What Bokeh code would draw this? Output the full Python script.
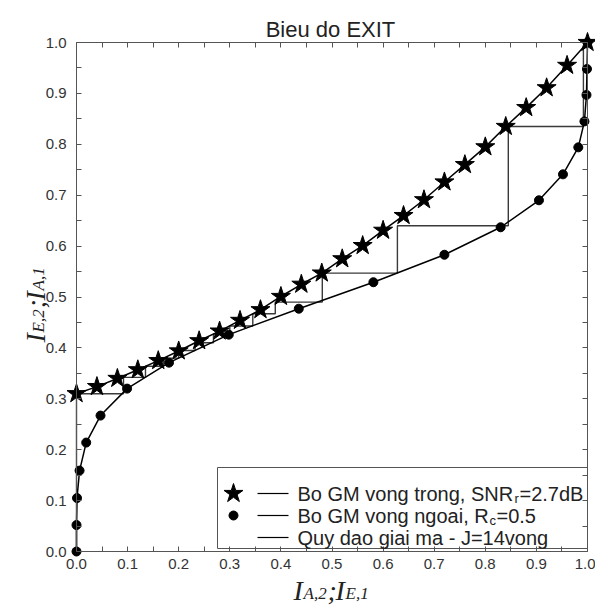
import math
from bokeh.plotting import figure
from bokeh.models import Range1d, LinearAxis, FixedTicker, PrintfTickFormatter, Label
from bokeh.embed import file_html
from bokeh.resources import INLINE

# ---------------- data ----------------
# Inner decoder EXIT curve (stars), SNR_r = 2.7 dB
inner_x = [0.00, 0.04, 0.08, 0.12, 0.16, 0.20, 0.24, 0.28, 0.32, 0.36, 0.40, 0.44, 0.48,
           0.52, 0.56, 0.60, 0.64, 0.68, 0.72, 0.76, 0.80, 0.84, 0.88, 0.92, 0.96, 1.00]
inner_y = [0.310, 0.324, 0.340, 0.357, 0.375, 0.394, 0.414, 0.433, 0.454, 0.475, 0.501, 0.525, 0.547,
           0.575, 0.601, 0.631, 0.660, 0.691, 0.726, 0.760, 0.795, 0.835, 0.872, 0.911, 0.955, 1.000]

# Outer decoder EXIT curve (dots), Rc = 0.5  (x = I_E,1 ; y = I_A,1)
outer_x = [0.000, 0.000, 0.001, 0.006, 0.019, 0.047, 0.099, 0.181, 0.298, 0.435,
           0.581, 0.720, 0.830, 0.905, 0.952, 0.982, 0.994, 0.998, 0.999, 1.000]
outer_y = [0.000, 0.052, 0.105, 0.159, 0.214, 0.267, 0.320, 0.371, 0.426, 0.477,
           0.529, 0.583, 0.637, 0.690, 0.741, 0.794, 0.845, 0.897, 0.948, 1.000]

# Decoding trajectory (J = 14 iterations)
traj_x = [0.000, 0.000, 0.092, 0.092, 0.135, 0.135, 0.170, 0.170, 0.200, 0.200, 0.232, 0.232,
          0.268, 0.268, 0.300, 0.300, 0.345, 0.345, 0.389, 0.389, 0.481, 0.481, 0.628, 0.628,
          0.845, 0.845, 0.992, 0.992, 1.000, 1.000]
traj_y = [0.000, 0.310, 0.310, 0.342, 0.342, 0.364, 0.364, 0.380, 0.380, 0.395, 0.395, 0.410,
          0.410, 0.427, 0.427, 0.443, 0.443, 0.467, 0.467, 0.490, 0.490, 0.547, 0.547, 0.640,
          0.640, 0.835, 0.835, 0.990, 0.990, 1.000]

major_ticks = [0.0, 0.1, 0.2, 0.3, 0.4, 0.5, 0.6, 0.7, 0.8, 0.9, 1.0]
minor_ticks = [0.05, 0.15, 0.25, 0.35, 0.45, 0.55, 0.65, 0.75, 0.85, 0.95]
all_ticks = sorted(major_ticks + minor_ticks)

title_text = "Bieu do EXIT"
legend_texts = ["Bo GM vong trong, SNR", "Bo GM vong ngoai, R", "Quy dao giai ma - J=14vong"]

# ---------------- layout ----------------
W, H = 595, 607
# plotting box (data 0..1) in canvas pixels
BOX_L, BOX_R = 76, 587          # from left
BOX_T, BOX_B = 42, 551          # from top
PXX = BOX_R - BOX_L             # px per unit x
PXY = BOX_B - BOX_T             # px per unit y
OX, OY = BOX_L, H - BOX_B       # box origin in screen units (from bottom-left)

SANS = "Liberation Sans"
SERIF = "Liberation Serif"
AX_COL = "#555555"

p = figure(width=W, height=H, output_backend="svg", toolbar_location=None,
           x_range=Range1d(-BOX_L / PXX, 1 + (W - BOX_R) / PXX),
           y_range=Range1d(-(H - BOX_B) / PXY, 1 + BOX_T / PXY),
           min_border=0, min_border_left=0, min_border_right=0,
           min_border_top=0, min_border_bottom=0,
           x_axis_type=None, y_axis_type=None)
p.outline_line_color = None
p.grid.visible = False
p.background_fill_color = "white"
p.border_fill_color = "white"


def make_axis(loc, labelled):
    if labelled:
        tk = FixedTicker(ticks=major_ticks, minor_ticks=minor_ticks)
    else:
        tk = FixedTicker(ticks=[], minor_ticks=all_ticks)
    ax = LinearAxis(ticker=tk, formatter=PrintfTickFormatter(format="%.1f"),
                    fixed_location=loc, bounds=(0, 1))
    ax.axis_line_color = AX_COL
    ax.major_tick_line_color = AX_COL
    ax.minor_tick_line_color = AX_COL
    ax.major_tick_in = 5
    ax.major_tick_out = 0
    ax.minor_tick_in = 5
    ax.minor_tick_out = 0
    ax.major_label_text_font = SANS
    ax.major_label_text_font_size = "15px"
    ax.major_label_text_color = "#333333"
    return ax


bx = make_axis(0, True); bx.major_label_standoff = 7
ly = make_axis(0, True); ly.major_label_standoff = 10
p.add_layout(bx, "below")
p.add_layout(ly, "left")
p.add_layout(make_axis(1, False), "above")
p.add_layout(make_axis(1, False), "right")

# ---------------- curves ----------------
p.line(traj_x, traj_y, line_color="#3a3a3a", line_width=1.4)
p.line(inner_x, inner_y, line_color="black", line_width=1.5)
p.scatter(inner_x, inner_y, marker="star", size=20, fill_color="black", line_color="black")
p.line(outer_x, outer_y, line_color="black", line_width=1.5)
p.scatter(outer_x, outer_y, marker="circle", size=9, fill_color="black", line_color="black")

# ---------------- legend (custom, with subscripts) ----------------
def dx(px):
    return px / PXX


def dy(py):
    return py / PXY


leg_l, leg_r, leg_b, leg_t = 141, PXX, 3, 84
p.quad(left=[dx(leg_l)], right=[dx(leg_r)], bottom=[dy(leg_b)], top=[dy(leg_t)],
       fill_color="white", line_color=AX_COL, line_width=1)
rows = [58, 36, 14]
mk_x, ln0, ln1, tx = 157, 181, 212, 221
p.scatter([dx(mk_x)], [dy(rows[0])], marker="star", size=20, fill_color="black", line_color="black")
p.scatter([dx(mk_x)], [dy(rows[1])], marker="circle", size=9, fill_color="black", line_color="black")
for r in rows:
    p.line([dx(ln0), dx(ln1)], [dy(r), dy(r)], line_color="black", line_width=1.2)


def lab(text, x, y, size, font=SANS, style="normal", angle=0.0, baseline="middle",
        align="left", color="#222222"):
    p.add_layout(Label(x=OX + x, y=OY + y, x_units="screen", y_units="screen", text=text,
                       angle=angle, text_font=font, text_font_size=size,
                       text_font_style=style, text_baseline=baseline, text_align=align,
                       text_color=color))


for r, t in zip(rows, legend_texts):
    lab(t, tx, r, "20px")
lab("r", tx + 217, rows[0] - 5, "13px")
lab("=2.7dB", tx + 222, rows[0], "20px")
lab("c", tx + 192, rows[1] - 5, "13px")
lab("=0.5", tx + 199, rows[1], "20px")

# ---------------- title ----------------
lab(title_text, 254, 522, "22px", baseline="alphabetic", align="center")

# ---------------- axis labels (composite, with subscripts) ----------------
BIG, SUB = "28px", "17px"
xb, xs = -39, 217
lab("I", xs, xb, BIG, font=SERIF, style="italic", baseline="alphabetic")
lab("A,2", xs + 10, xb - 3, SUB, font=SERIF, style="italic", baseline="alphabetic")
lab(";", xs + 34, xb, BIG, font=SERIF, style="italic", baseline="alphabetic")
lab("I", xs + 42, xb, BIG, font=SERIF, style="italic", baseline="alphabetic")
lab("E,1", xs + 52, xb - 3, SUB, font=SERIF, style="italic", baseline="alphabetic")

yb, ys = -41, 209
ang = math.pi / 2
lab("I", yb, ys, BIG, font=SERIF, style="italic", baseline="alphabetic", angle=ang)
lab("E,2", yb + 3, ys + 10, SUB, font=SERIF, style="italic", baseline="alphabetic", angle=ang)
lab(";", yb, ys + 34, BIG, font=SERIF, style="italic", baseline="alphabetic", angle=ang)
lab("I", yb, ys + 42, BIG, font=SERIF, style="italic", baseline="alphabetic", angle=ang)
lab("A,1", yb + 3, ys + 52, SUB, font=SERIF, style="italic", baseline="alphabetic", angle=ang)

open("out.html", "w").write(file_html(p, INLINE))
